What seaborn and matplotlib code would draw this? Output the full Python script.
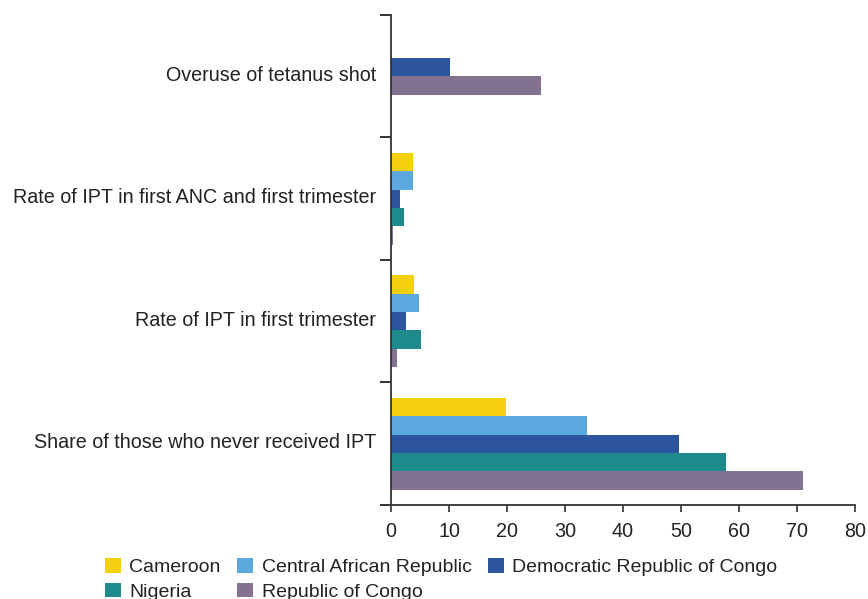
import matplotlib
matplotlib.use("Agg")
import matplotlib.pyplot as plt
import matplotlib.transforms as mtransforms
import seaborn as sns
import pandas as pd
from matplotlib.patches import Patch

categories = [
    "Overuse of tetanus shot",
    "Rate of IPT in first ANC and first trimester",
    "Rate of IPT in first trimester",
    "Share of those who never received IPT",
]
countries = [
    "Cameroon",
    "Central African Republic",
    "Democratic Republic of Congo",
    "Nigeria",
    "Republic of Congo",
]
# values per country, one per category (None = not reported)
cameroon = [None, 3.8, 4.0, 19.8]
car = [None, 3.8, 4.8, 33.8]
drc = [10.2, 1.5, 2.6, 49.7]
nigeria = [None, 2.2, 5.2, 57.8]
roc = [25.9, 0.3, 1.0, 71.0]

colors = ["#F5D00F", "#5DA9DD", "#2D559E", "#1E8A8C", "#83728F"]
xticks = [0, 10, 20, 30, 40, 50, 60, 70, 80]

series = [cameroon, car, drc, nigeria, roc]
rows = []
for country, vals in zip(countries, series):
    for cat, v in zip(categories, vals):
        if v is not None:
            rows.append({"category": cat, "country": country, "value": v})
df = pd.DataFrame(rows)
palette = dict(zip(countries, colors))

sns.set_theme(style="white")
plt.rcParams["font.family"] = ["Liberation Sans", "DejaVu Sans"]

fig = plt.figure(figsize=(8.68, 5.99), dpi=100)
ax = fig.add_axes([0.4505, 0.157, 0.5345, 0.818])

# categories where every country reports a value
full = df[df["category"] != categories[0]]
sns.barplot(data=full, y="category", x="value", hue="country",
            order=categories, hue_order=countries, palette=palette,
            orient="h", width=0.75, saturation=1, errorbar=None,
            linewidth=0, legend=False, ax=ax)

# first category: only the reporting countries, bars kept at the same thickness
part = df[df["category"] == categories[0]]
part_countries = [c for c in countries if c in set(part["country"])]
sns.barplot(data=part, y="category", x="value", hue="country",
            order=categories, hue_order=part_countries, palette=palette,
            orient="h", width=0.15 * len(part_countries), saturation=1,
            errorbar=None, linewidth=0, legend=False, ax=ax)

ax.set_xlim(0, 80)
ax.set_ylim(3.5, -0.5)
ax.set_xticks(xticks)
ax.set_xticklabels([str(t) for t in xticks])
ax.set_xlabel("")
ax.set_ylabel("")

ax.set_yticks(range(len(categories)))
ax.set_yticklabels(categories)
ax.set_yticks([-0.5, 0.5, 1.5, 2.5, 3.5], minor=True)
ax.tick_params(axis="y", which="major", length=0, pad=11, labelsize=14.2,
               labelcolor="#222222")
ax.tick_params(axis="y", which="minor", length=8, width=1.4, color="#333333",
               left=True)
ax.tick_params(axis="x", which="major", length=5, width=1.2, color="#333333",
               bottom=True, labelsize=14.2, labelcolor="#222222", pad=7)

# lift the category labels slightly
lift = mtransforms.ScaledTranslation(0, 2 / 72, fig.dpi_scale_trans)
for lbl in ax.get_yticklabels():
    lbl.set_transform(lbl.get_transform() + lift)

for side in ["top", "right"]:
    ax.spines[side].set_visible(False)
for side in ["left", "bottom"]:
    ax.spines[side].set_color("#333333")
    ax.spines[side].set_linewidth(1.3)

# legend: three columns, filled row by row
order_idx = [0, 3, 1, 4, 2]
handles = [Patch(facecolor=colors[i], edgecolor="none", label=countries[i])
           for i in order_idx]
fig.legend(handles=handles, loc="upper left", bbox_to_anchor=(0.121, 0.068),
           ncol=3, frameon=False, fontsize=14, handlelength=0.8,
           handleheight=0.77, handletextpad=0.45, columnspacing=0.85,
           labelspacing=0.33, borderaxespad=0, borderpad=0,
           labelcolor="#222222")

fig.savefig("out.png", dpi=100)
